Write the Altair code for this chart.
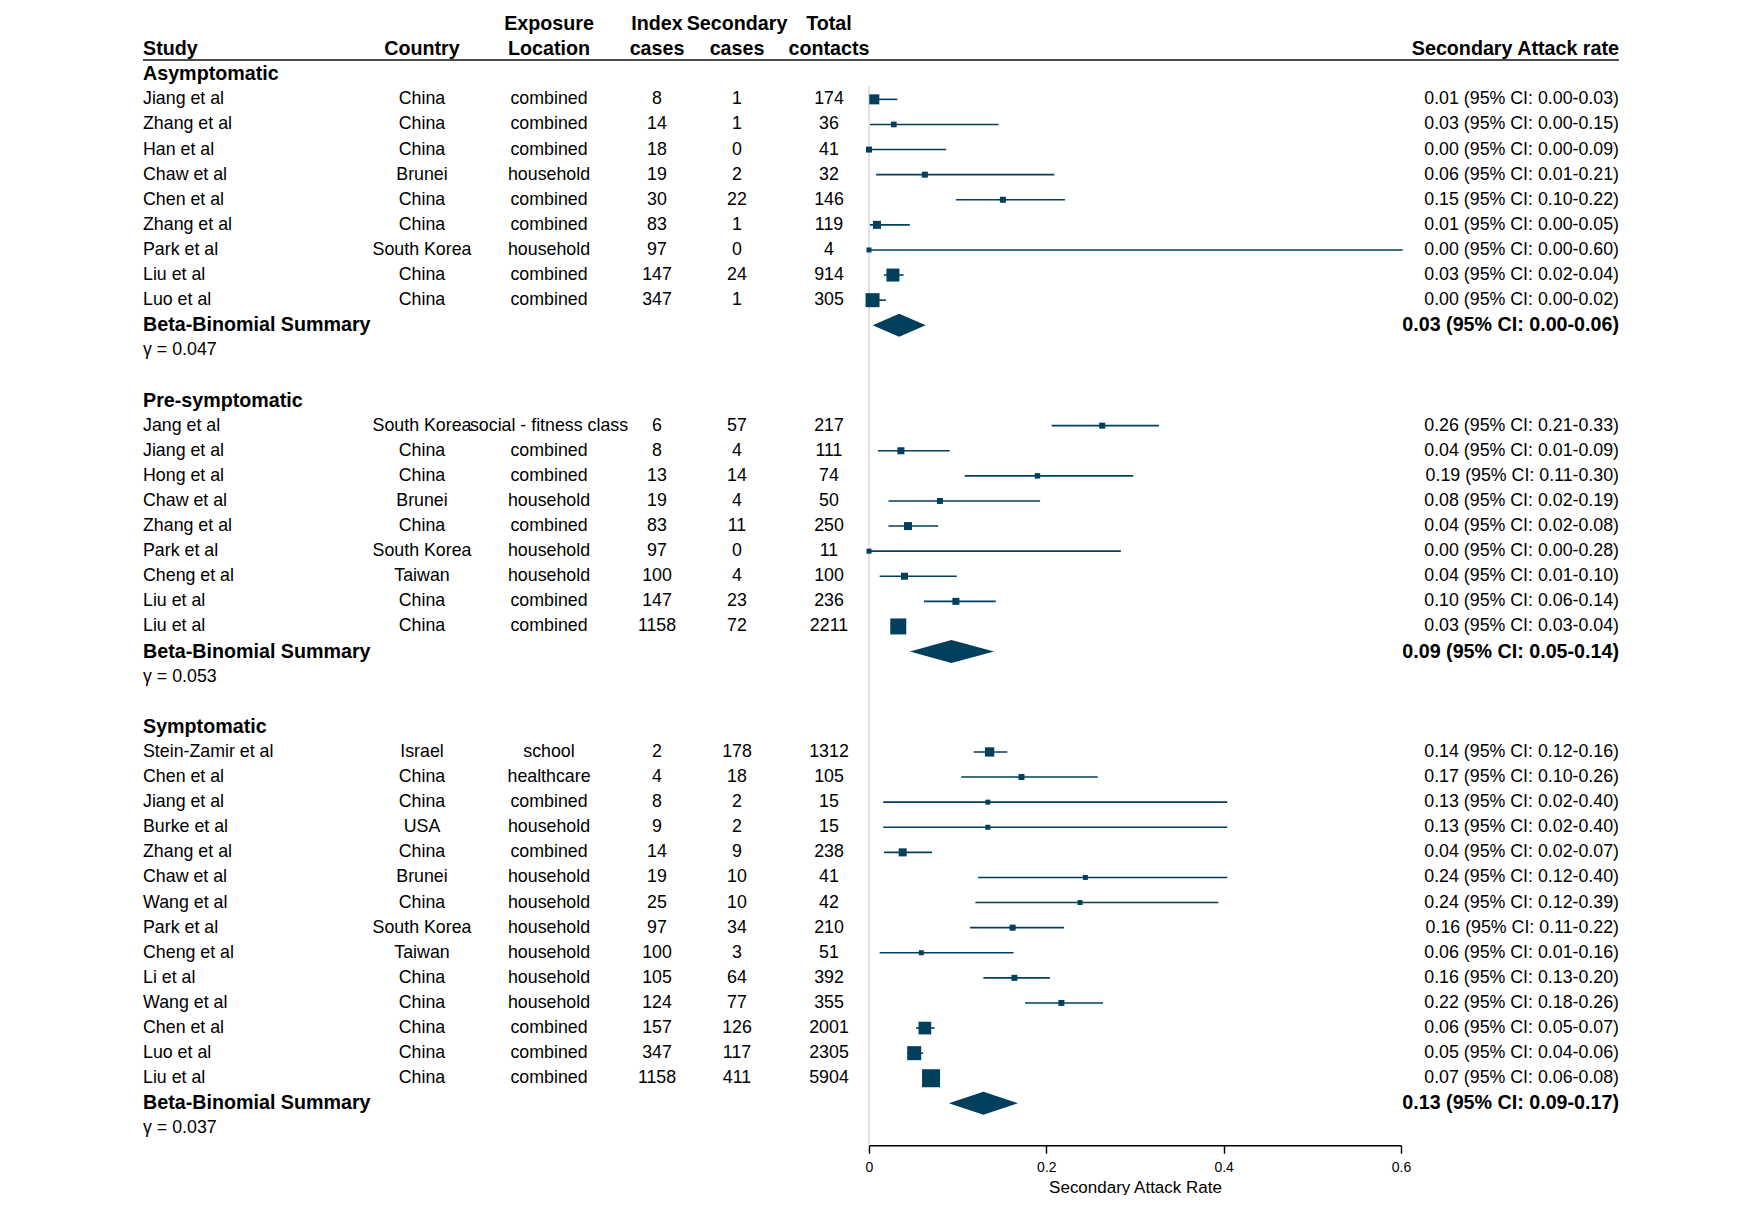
import altair as alt
import pandas as pd

# ---------------- data ----------------
group_names = ["Asymptomatic", "Pre-symptomatic", "Symptomatic"]
gammas = [0.047, 0.053, 0.037]

asym_study = ["Jiang et al", "Zhang et al", "Han et al", "Chaw et al", "Chen et al",
              "Zhang et al", "Park et al", "Liu et al", "Luo et al"]
asym_country = ["China", "China", "China", "Brunei", "China", "China", "South Korea", "China", "China"]
asym_location = ["combined", "combined", "combined", "household", "combined", "combined",
                 "household", "combined", "combined"]
asym_index = [8, 14, 18, 19, 30, 83, 97, 147, 347]
asym_secondary = [1, 1, 0, 2, 22, 1, 0, 24, 1]
asym_total = [174, 36, 41, 32, 146, 119, 4, 914, 305]
asym_est = [0.006, 0.028, 0.0, 0.063, 0.151, 0.009, 0.0, 0.027, 0.004]
asym_lo = [0.001, 0.001, 0.0, 0.008, 0.098, 0.001, 0.0, 0.017, 0.001]
asym_hi = [0.032, 0.146, 0.087, 0.209, 0.221, 0.046, 0.602, 0.039, 0.019]
asym_weight = [100, 32, 36, 36, 36, 64, 25, 169, 196]
asym_summary = [0.034, 0.004, 0.064]

pre_study = ["Jang et al", "Jiang et al", "Hong et al", "Chaw et al", "Zhang et al",
             "Park et al", "Cheng et al", "Liu et al", "Liu et al"]
pre_country = ["South Korea", "China", "China", "Brunei", "China", "South Korea", "Taiwan", "China", "China"]
pre_location = ["social - fitness class", "combined", "combined", "household", "combined",
                "household", "household", "combined", "combined"]
pre_index = [6, 8, 13, 19, 83, 97, 100, 147, 1158]
pre_secondary = [57, 4, 14, 4, 11, 0, 4, 23, 72]
pre_total = [217, 111, 74, 50, 250, 11, 100, 236, 2211]
pre_est = [0.263, 0.036, 0.190, 0.080, 0.044, 0.0, 0.040, 0.098, 0.033]
pre_lo = [0.206, 0.010, 0.108, 0.022, 0.022, 0.0, 0.012, 0.062, 0.026]
pre_hi = [0.327, 0.091, 0.298, 0.193, 0.078, 0.284, 0.099, 0.143, 0.040]
pre_weight = [36, 49, 30, 36, 64, 25, 49, 49, 256]
pre_summary = [0.093, 0.046, 0.141]

sym_study = ["Stein-Zamir et al", "Chen et al", "Jiang et al", "Burke et al", "Zhang et al",
             "Chaw et al", "Wang et al", "Park et al", "Cheng et al", "Li et al",
             "Wang et al", "Chen et al", "Luo et al", "Liu et al"]
sym_country = ["Israel", "China", "China", "USA", "China", "Brunei", "China", "South Korea",
               "Taiwan", "China", "China", "China", "China", "China"]
sym_location = ["school", "healthcare", "combined", "household", "combined", "household",
                "household", "household", "household", "household", "household",
                "combined", "combined", "combined"]
sym_index = [2, 4, 8, 9, 14, 19, 25, 97, 100, 105, 124, 157, 347, 1158]
sym_secondary = [178, 18, 2, 2, 9, 10, 10, 34, 3, 64, 77, 126, 117, 411]
sym_total = [1312, 105, 15, 15, 238, 41, 42, 210, 51, 392, 355, 2001, 2305, 5904]
sym_est = [0.136, 0.172, 0.134, 0.134, 0.038, 0.244, 0.238, 0.162, 0.059, 0.164,
           0.217, 0.063, 0.051, 0.070]
sym_lo = [0.118, 0.104, 0.016, 0.016, 0.017, 0.123, 0.120, 0.114, 0.012, 0.129,
          0.176, 0.053, 0.043, 0.064]
sym_hi = [0.156, 0.258, 0.404, 0.404, 0.071, 0.404, 0.394, 0.220, 0.163, 0.204,
          0.264, 0.074, 0.061, 0.076]
sym_weight = [86, 36, 25, 25, 64, 25, 25, 36, 25, 36, 36, 161, 196, 324]
sym_summary = [0.129, 0.090, 0.168]

groups = [
    (asym_study, asym_country, asym_location, asym_index, asym_secondary, asym_total,
     asym_est, asym_lo, asym_hi, asym_weight, asym_summary),
    (pre_study, pre_country, pre_location, pre_index, pre_secondary, pre_total,
     pre_est, pre_lo, pre_hi, pre_weight, pre_summary),
    (sym_study, sym_country, sym_location, sym_index, sym_secondary, sym_total,
     sym_est, sym_lo, sym_hi, sym_weight, sym_summary),
]


def sar(e, l, h):
    return f"{e:.2f} (95% CI: {l:.2f}-{h:.2f})"


group_rows, study_rows, summary_rows, gamma_rows, diamond_rows = [], [], [], [], []
row = 0
for gi, (st, co, lo_, ix, se, to, es, lw, hi, wt, sm) in enumerate(groups):
    group_rows.append({"text": group_names[gi], "row": row})
    row += 1
    for i in range(len(st)):
        study_rows.append({"study": st[i], "country": co[i], "location": lo_[i],
                           "index": str(ix[i]), "secondary": str(se[i]), "total": str(to[i]),
                           "est": es[i], "lo": lw[i], "hi": hi[i], "w": wt[i],
                           "sar": sar(es[i], lw[i], hi[i]), "row": row})
        row += 1
    summary_rows.append({"text": "Beta-Binomial Summary", "sar": sar(*sm), "row": row})
    half = 0.458
    diamond_rows += [
        {"g": gi, "x": sm[1], "yt": row, "yb": row},
        {"g": gi, "x": sm[0], "yt": row - half, "yb": row + half},
        {"g": gi, "x": sm[2], "yt": row, "yb": row},
    ]
    row += 1
    gamma_rows.append({"text": f"\u03b3 = {gammas[gi]:.3f}", "row": row})
    row += 2

last_row = row - 2  # last gamma row
axis_row = last_row + 0.67

studies = pd.DataFrame(study_rows)
grp = pd.DataFrame(group_rows)
summ = pd.DataFrame(summary_rows)
gam = pd.DataFrame(gamma_rows)
diam = pd.DataFrame(diamond_rows)

headers = pd.DataFrame([
    {"col": "study", "text": "Study", "row": -1},
    {"col": "country", "text": "Country", "row": -1},
    {"col": "location", "text": "Exposure", "row": -2},
    {"col": "location", "text": "Location", "row": -1},
    {"col": "index", "text": "Index", "row": -2},
    {"col": "index", "text": "cases", "row": -1},
    {"col": "secondary", "text": "Secondary", "row": -2},
    {"col": "secondary", "text": "cases", "row": -1},
    {"col": "total", "text": "Total", "row": -2},
    {"col": "total", "text": "contacts", "row": -1},
    {"col": "sar", "text": "Secondary Attack rate", "row": -1},
])

# ---------------- layout / style ----------------
FONT = "Liberation Sans, Arial, sans-serif"
BODY = 17.8
BOLD = 19.7
NAVY = "#013f5c"
ROW_PX = 25.1
TOP = -2.64
HEIGHT = (axis_row - TOP) * ROW_PX
WIDTH = 1615

col_x = {"study": 135, "country": 414, "location": 541, "index": 649,
         "secondary": 729, "total": 821, "sar": 1611}
col_align = {"study": "left", "country": "center", "location": "center", "index": "center",
             "secondary": "center", "total": "center", "sar": "right"}

yscale = alt.Scale(domain=[TOP, axis_row], reverse=True, nice=False, zero=False)
xscale = alt.Scale(domain=[0, 0.6], range=[861, 1393], nice=False, zero=False)
xaxis = alt.Axis(values=[0, 0.2, 0.4, 0.6], format="~g", title="Secondary Attack Rate",
                 grid=False, domainColor="black", domainWidth=1.6, tickColor="black",
                 tickWidth=1.4, tickSize=8, labelFont=FONT, labelFontSize=14,
                 labelColor="black", labelPadding=7, labelFlush=False,
                 titleFont=FONT, titleFontSize=17,
                 titleFontWeight="normal", titleColor="black", titlePadding=5)


def Y(field):
    return alt.Y(f"{field}:Q", scale=yscale, axis=None)


def X(field):
    return alt.X(f"{field}:Q", scale=xscale, axis=xaxis)


def text_layer(df, field, col, bold=False, size=BODY):
    return alt.Chart(df).mark_text(
        align=col_align[col], baseline="middle", font=FONT, fontSize=size,
        fontWeight="bold" if bold else "normal", color="black"
    ).encode(x=alt.value(col_x[col]), y=Y("row"), text=alt.Text(f"{field}:N"))


layers = []

# header
for c in col_x:
    layers.append(text_layer(headers[headers["col"] == c], "text", c, bold=True, size=BOLD))
layers.append(
    alt.Chart(pd.DataFrame({"row": [-0.57]})).mark_rule(color="#4d4d4d", strokeWidth=2)
    .encode(x=alt.value(col_x["study"]), x2=alt.value(col_x["sar"]), y=Y("row"))
)

# zero reference line
layers.append(
    alt.Chart(pd.DataFrame({"x": [0.0], "y1": [0.48], "y2": [float(axis_row)]}))
    .mark_rule(color="#cfcfcf", strokeWidth=1.2)
    .encode(x=X("x"), y=Y("y1"), y2="y2:Q")
)

# table text
layers.append(text_layer(grp, "text", "study", bold=True, size=BOLD))
for c in ["study", "country", "location", "index", "secondary", "total", "sar"]:
    layers.append(text_layer(studies, c, c))
layers.append(text_layer(summ, "text", "study", bold=True, size=BOLD))
layers.append(text_layer(summ, "sar", "sar", bold=True, size=BOLD))
layers.append(text_layer(gam, "text", "study"))

# forest marks
layers.append(
    alt.Chart(studies).mark_rule(color=NAVY, strokeWidth=1.6)
    .encode(x=X("lo"), x2="hi:Q", y=Y("row"))
)
layers.append(
    alt.Chart(studies).mark_square(color=NAVY, opacity=1, filled=True)
    .encode(x=X("est"), y=Y("row"),
            size=alt.Size("w:Q", scale=alt.Scale(domain=[0, 324], range=[0, 324]), legend=None))
)
layers.append(
    alt.Chart(diam).mark_area(color=NAVY, opacity=1, orient="vertical")
    .encode(x=X("x"), y=Y("yt"), y2="yb:Q", detail="g:N")
)

chart = alt.layer(*layers).properties(
    width=WIDTH, height=HEIGHT, padding=0
).configure_view(stroke=None)

chart.save("out.html", embed_options={"renderer": "svg", "actions": False})
